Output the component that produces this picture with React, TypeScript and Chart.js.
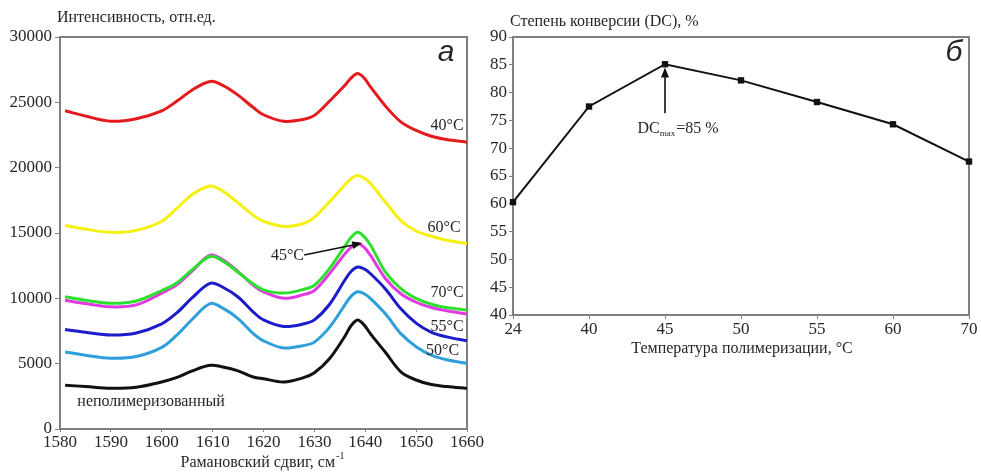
import React, { useEffect, useRef } from "react";
import { Chart, registerables } from "chart.js";
Chart.register(...registerables);

// ---------- Panel a: Raman spectra ----------
const wavenumbers = [1581, 1585, 1590, 1595, 1600, 1603, 1606, 1609.5, 1612, 1615, 1618, 1620, 1624, 1628, 1630, 1633, 1636, 1637.2, 1638.5, 1639.8, 1641, 1644, 1647, 1650, 1653, 1656, 1660];
const spec40 = [24350, 23950, 23550, 23750, 24350, 25100, 25950, 26600, 26300, 25550, 24600, 24050, 23550, 23700, 24000, 25100, 26300, 26850, 27200, 26850, 26200, 24700, 23500, 22850, 22400, 22150, 21950];
const spec60 = [15580, 15300, 15050, 15200, 15900, 16900, 17950, 18600, 18200, 17300, 16350, 15900, 15500, 15750, 16200, 17400, 18700, 19150, 19400, 19200, 18800, 17350, 15950, 15150, 14750, 14450, 14200];
const spec45 = [10120, 9850, 9620, 9800, 10600, 11200, 12200, 13200, 12850, 12000, 11100, 10650, 10400, 10700, 11000, 12300, 14000, 14650, 15050, 14700, 14100, 12000, 10750, 10000, 9550, 9300, 9100];
const spec70 = [9850, 9600, 9350, 9500, 10400, 11050, 12100, 13300, 12950, 12050, 11000, 10500, 10000, 10300, 10600, 11900, 13400, 13900, 14200, 13900, 13300, 11500, 10350, 9700, 9300, 9050, 8800];
const spec55 = [7620, 7400, 7190, 7350, 8050, 8900, 10050, 11150, 10850, 10100, 8950, 8350, 7850, 8050, 8350, 9550, 11400, 12050, 12400, 12250, 11900, 10700, 9200, 8100, 7400, 7050, 6750];
const spec50 = [5900, 5650, 5420, 5550, 6250, 7200, 8400, 9600, 9250, 8450, 7300, 6750, 6200, 6400, 6650, 7800, 9500, 10150, 10500, 10350, 10000, 8800, 7300, 6300, 5650, 5300, 5030];
const specUncured = [3350, 3250, 3120, 3200, 3600, 3950, 4450, 4880, 4750, 4450, 3980, 3850, 3600, 3950, 4300, 5400, 7100, 7900, 8350, 7950, 7300, 5850, 4380, 3750, 3400, 3250, 3100];
const xTicksA = { min: 1580, max: 1660, step: 10 };
const yTicksA = { min: 0, max: 30000, step: 5000 };

// ---------- Panel б: degree of conversion ----------
const temperatures = ["24", "40", "45", "50", "55", "60", "70"];
const conversion = [60.3, 77.5, 85.1, 82.2, 78.3, 74.3, 67.6];
const yTicksB = { min: 40, max: 90, step: 5 };

const SERIF = '"Liberation Serif", "Times New Roman", serif';
const SANS = '"Liberation Sans", Arial, sans-serif';
const TXT = "#262626";
const FRAME = "#808080";

const pts = (ys: number[]) => wavenumbers.map((x, i) => ({ x, y: ys[i] }));

function text(ctx: CanvasRenderingContext2D, s: string, x: number, y: number, font: string, align: CanvasTextAlign = "center") {
  ctx.save();
  ctx.font = font;
  ctx.fillStyle = TXT;
  ctx.textAlign = align;
  ctx.textBaseline = "middle";
  ctx.fillText(s, x, y);
  ctx.restore();
}

function arrow(ctx: CanvasRenderingContext2D, x1: number, y1: number, x2: number, y2: number) {
  const a = Math.atan2(y2 - y1, x2 - x1);
  const hl = 10, hw = 4;
  ctx.save();
  ctx.strokeStyle = "#111";
  ctx.fillStyle = "#111";
  ctx.lineWidth = 1.6;
  ctx.beginPath();
  ctx.moveTo(x1, y1);
  ctx.lineTo(x2 - Math.cos(a) * hl * 0.8, y2 - Math.sin(a) * hl * 0.8);
  ctx.stroke();
  ctx.beginPath();
  ctx.moveTo(x2, y2);
  ctx.lineTo(x2 - Math.cos(a) * hl - Math.sin(a) * hw, y2 - Math.sin(a) * hl + Math.cos(a) * hw);
  ctx.lineTo(x2 - Math.cos(a) * hl + Math.sin(a) * hw, y2 - Math.sin(a) * hl - Math.cos(a) * hw);
  ctx.closePath();
  ctx.fill();
  ctx.restore();
}

function frame(chart: any) {
  const { ctx, chartArea: a } = chart;
  ctx.save();
  ctx.strokeStyle = FRAME;
  ctx.lineWidth = 2;
  ctx.strokeRect(a.left, a.top, a.right - a.left, a.bottom - a.top);
  ctx.restore();
}

const panelAPlugin = {
  id: "panelA",
  beforeDatasetsDraw(chart: any) {
    frame(chart);
  },
  afterDraw(chart: any) {
    const { ctx } = chart;
    const xs = chart.scales.x, ys = chart.scales.y;
    const P = (x: number, y: number) => [xs.getPixelForValue(x), ys.getPixelForValue(y)];
    const f = `16px ${SERIF}`;
    text(ctx, "Интенсивность, отн.ед.", 57, 18, f, "left");
    ctx.save();
    ctx.font = f;
    const main = "Рамановский сдвиг, см";
    const w1 = ctx.measureText(main).width;
    ctx.font = `10px ${SERIF}`;
    const w2 = ctx.measureText("-1").width;
    ctx.restore();
    const sx = 262 - (w1 + w2) / 2;
    text(ctx, main, sx, 463, f, "left");
    text(ctx, "-1", sx + w1 + 1, 456, `10px ${SERIF}`, "left");
    const lab: [string, number, number][] = [
      ["40°C", 1656.1, 23180],
      ["60°C", 1655.5, 15380],
      ["70°C", 1656.1, 10400],
      ["55°C", 1656.1, 7800],
      ["50°C", 1655.2, 5970],
      ["45°C", 1624.7, 13240],
      ["неполимеризованный", 1597.9, 2070],
    ];
    for (const [s, x, y] of lab) {
      const [px, py] = P(x, y);
      text(ctx, s, px, py, f);
    }
    const [ax1, ay1] = P(1628.0, 13310);
    const [ax2, ay2] = P(1639.4, 14230);
    arrow(ctx, ax1, ay1, ax2, ay2);
    text(ctx, "а", 446, 53, `italic 30px ${SANS}`);
  },
};

const panelBPlugin = {
  id: "panelB",
  beforeDatasetsDraw(chart: any) {
    frame(chart);
  },
  afterDraw(chart: any) {
    const { ctx } = chart;
    const xs = chart.scales.x, ys = chart.scales.y;
    const f = `16px ${SERIF}`;
    text(ctx, "Степень конверсии (DC), %", 20, 22, f, "left");
    text(ctx, "Температура полимеризации, °C", 252, 349, f);
    const ax = xs.getPixelForValue(2);
    arrow(ctx, ax, ys.getPixelForValue(76.3), ax, ys.getPixelForValue(84.5));
    ctx.save();
    ctx.font = f;
    const wDC = ctx.measureText("DC").width;
    const wRest = ctx.measureText("=85 %").width;
    ctx.font = `9px ${SERIF}`;
    const wMax = ctx.measureText("max").width;
    ctx.restore();
    const total = wDC + wMax + wRest + 1;
    const x0 = ax + 13 - total / 2;
    const yy = ys.getPixelForValue(73.5);
    text(ctx, "DC", x0, yy, f, "left");
    text(ctx, "max", x0 + wDC, yy + 5, `9px ${SERIF}`, "left");
    text(ctx, "=85 %", x0 + wDC + wMax + 1, yy, f, "left");
    text(ctx, "б", 464, 53, `italic 30px ${SANS}`);
  },
};

const tickFont = { family: SERIF, size: 17 };
const plain = (v: any) => String(v);

export default function App() {
  const leftRef = useRef<HTMLCanvasElement>(null);
  const rightRef = useRef<HTMLCanvasElement>(null);

  useEffect(() => {
    document.body.style.margin = "0";
    const ds = (label: string, ys: number[], color: string) => ({
      label,
      data: pts(ys),
      borderColor: color,
      backgroundColor: color,
      borderWidth: 3,
      pointRadius: 0,
      fill: false,
      tension: 0.35,
    });
    const c1 = new Chart(leftRef.current!, {
      type: "line",
      data: {
        datasets: [
          ds("45°C", spec45, "#2ee02e"),
          ds("70°C", spec70, "#e23ae2"),
          ds("40°C", spec40, "#e41a1c"),
          ds("60°C", spec60, "#f6f010"),
          ds("55°C", spec55, "#1c1cc8"),
          ds("50°C", spec50, "#2f9fdc"),
          ds("неполимеризованный", specUncured, "#111111"),
        ],
      },
      options: {
        animation: false,
        responsive: false,
        devicePixelRatio: 1,
        layout: { padding: { left: 0, top: 37, right: 23, bottom: 0 } },
        plugins: { legend: { display: false }, tooltip: { enabled: false } },
        scales: {
          x: {
            type: "linear",
            min: xTicksA.min,
            max: xTicksA.max,
            ticks: { stepSize: xTicksA.step, font: tickFont, color: TXT, padding: 0, maxRotation: 0, callback: plain },
            grid: { display: true, drawOnChartArea: false, drawTicks: true, tickLength: 3, color: FRAME },
            border: { display: true, color: FRAME, width: 2 },
            afterFit: (s: any) => { s.height = 43; },
          },
          y: {
            min: yTicksA.min,
            max: yTicksA.max,
            ticks: { stepSize: yTicksA.step, font: tickFont, color: TXT, padding: 3, callback: plain },
            grid: { display: true, drawOnChartArea: false, drawTicks: true, tickLength: 5, color: FRAME },
            border: { display: true, color: FRAME, width: 2 },
            afterFit: (s: any) => { s.width = 60; },
          },
        },
      },
      plugins: [panelAPlugin],
    } as any);

    const c2 = new Chart(rightRef.current!, {
      type: "line",
      data: {
        labels: temperatures,
        datasets: [
          {
            label: "DC",
            data: conversion,
            borderColor: "#111",
            backgroundColor: "#111",
            borderWidth: 2,
            pointStyle: "rect",
            pointRadius: 4.5,
            pointBorderWidth: 0,
            tension: 0,
            clip: false,
          },
        ],
      },
      options: {
        animation: false,
        responsive: false,
        devicePixelRatio: 1,
        layout: { padding: { left: 0, top: 37, right: 12, bottom: 0 } },
        plugins: { legend: { display: false }, tooltip: { enabled: false } },
        scales: {
          x: {
            type: "category",
            offset: false,
            ticks: { font: tickFont, color: TXT, padding: 0, maxRotation: 0 },
            grid: { display: true, offset: false, drawOnChartArea: false, drawTicks: true, tickLength: 4, color: FRAME },
            border: { display: true, color: FRAME, width: 2 },
            afterFit: (s: any) => { s.height = 157; },
          },
          y: {
            min: yTicksB.min,
            max: yTicksB.max,
            ticks: { stepSize: yTicksB.step, font: tickFont, color: TXT, padding: 2, callback: plain },
            grid: { display: true, drawOnChartArea: false, drawTicks: true, tickLength: 4, color: FRAME },
            border: { display: true, color: FRAME, width: 2 },
            afterFit: (s: any) => { s.width = 23; },
          },
        },
      },
      plugins: [panelBPlugin],
    } as any);

    return () => {
      c1.destroy();
      c2.destroy();
    };
  }, []);

  return (
    <div style={{ position: "relative", width: 981, height: 472, background: "#fff", overflow: "hidden" }}>
      <canvas ref={leftRef} width={490} height={472} style={{ position: "absolute", left: 0, top: 0, width: 490, height: 472 }} />
      <canvas ref={rightRef} width={491} height={472} style={{ position: "absolute", left: 490, top: 0, width: 491, height: 472 }} />
    </div>
  );
}
